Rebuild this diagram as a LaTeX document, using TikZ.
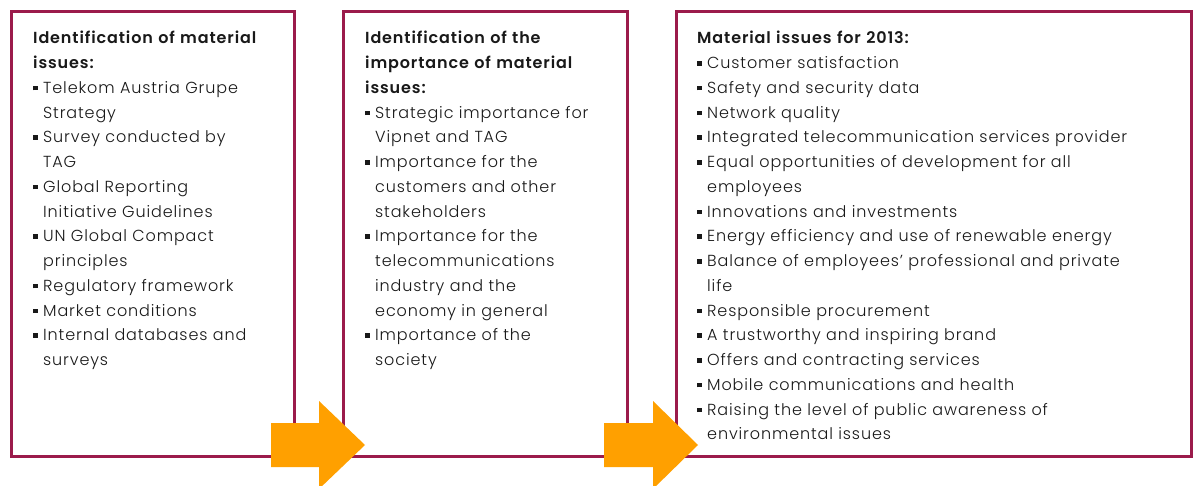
\documentclass[tikz,border=0pt]{standalone}
\usepackage{fontspec}
\setmainfont{Poppins}[UprightFont={Poppins Light}, BoldFont={Poppins SemiBold}, LetterSpace=5.5]
\definecolor{frame}{RGB}{155,27,75}
\definecolor{arr}{RGB}{255,160,0}
\definecolor{ink}{RGB}{25,25,25}
\newcommand\bl{\makebox[10pt][l]{\rule[3pt]{4.5pt}{4.5pt}}}
\newcommand\ind{\hspace*{10pt}}
\tikzset{
  panel/.style={draw=frame, line width=3pt, fill=white, anchor=north west, inner sep=0pt},
  txt/.style={anchor=base west, inner sep=0pt, align=left, text=ink,
    font=\fontsize{16}{24.75}\selectfont},
  blockarrow/.style={fill=arr}
}
\begin{document}
\begin{tikzpicture}[x=1pt,y=-1pt]
\useasboundingbox (0,0) rectangle (1194,486);
\clip (0,0) rectangle (1194,486);
\node[panel, minimum width=283pt, minimum height=445pt] (b1) at (10,10) {};
\node[panel, minimum width=284pt, minimum height=445pt] (b2) at (342,10) {};
\node[panel, minimum width=515pt, minimum height=445pt] (b3) at (675,10) {};
\node[txt, text width=255pt] (t1) at (33,44) {%
\textbf{Identification of material}\\
\textbf{issues:}\\
\bl Telekom Austria Grupe\\
\ind Strategy\\
\bl Survey conducted by\\
\ind TAG\\
\bl Global Reporting\\
\ind Initiative Guidelines\\
\bl UN Global Compact\\
\ind principles\\
\bl Regulatory framework\\
\bl Market conditions\\
\bl Internal databases and\\
\ind surveys};
\node[txt, text width=255pt] (t2) at (365,44) {%
\textbf{Identification of the}\\
\textbf{importance of material}\\
\textbf{issues:}\\
\bl Strategic importance for\\
\ind Vipnet and TAG\\
\bl Importance for the\\
\ind customers and other\\
\ind stakeholders\\
\bl Importance for the\\
\ind telecommunications\\
\ind industry and the\\
\ind economy in general\\
\bl Importance of the\\
\ind society};
\node[txt, text width=480pt] (t3) at (697,44) {%
\textbf{Material issues for 2013:}\\
\bl Customer satisfaction\\
\bl Safety and security data\\
\bl Network quality\\
\bl Integrated telecommunication services provider\\
\bl Equal opportunities of development for all\\
\ind employees\\
\bl Innovations and investments\\
\bl Energy efficiency and use of renewable energy\\
\bl Balance of employees’ professional and private\\
\ind life\\
\bl Responsible procurement\\
\bl A trustworthy and inspiring brand\\
\bl Offers and contracting services\\
\bl Mobile communications and health\\
\bl Raising the level of public awareness of\\
\ind environmental issues};
\fill[blockarrow] (271,423) -- (319,423) -- (319,401) -- (365,445) -- (319,489) -- (319,467) -- (271,467) -- cycle;
\fill[blockarrow] (604,423) -- (653,423) -- (653,401) -- (698,445) -- (653,489) -- (653,467) -- (604,467) -- cycle;
\end{tikzpicture}
\end{document}
